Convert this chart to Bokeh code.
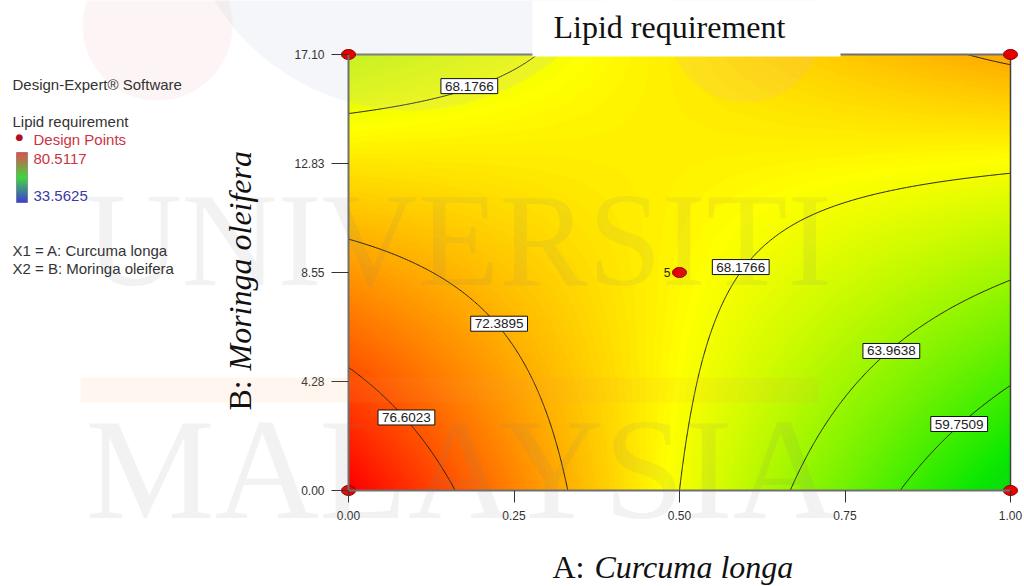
import numpy as np
from bokeh.plotting import figure
from bokeh.models import (Range1d, Label, BoxAnnotation, FixedTicker,
                          PrintfTickFormatter, LinearColorMapper)
from bokeh.embed import file_html
from bokeh.resources import INLINE

# ---------------- data ----------------
a_ticks = [0.00, 0.25, 0.50, 0.75, 1.00]
b_ticks = [0.00, 4.28, 8.55, 12.83, 17.10]
a_min, a_max = 0.0, 1.0
b_min, b_max = 0.0, 17.10
# coded quadratic model: intercept, A, B, AB, A^2, B^2
model_coefs = [69.03, -4.615, 0.725, 7.925, -0.15, -0.13]
contour_levels = [59.7509, 63.9638, 68.1766, 72.3895, 76.6023]
resp_low, resp_high = 33.5625, 80.5117
design_a = [0.0, 1.0, 0.0, 1.0, 0.5]
design_b = [0.0, 0.0, 17.10, 17.10, 8.55]
center_reps = 5
label_levels = [68.1766, 68.1766, 72.3895, 76.6023, 63.9638, 59.7509]
label_near_a = [0.183, 0.557, 0.233, 0.094, 0.826, 0.914]
label_near_b = [15.92, 9.45, 6.59, 3.14, 5.29, 2.75]

# ---------------- surface ----------------
A = np.linspace(a_min, a_max, 401)
B = np.linspace(b_min, b_max, 401)
AA, BB = np.meshgrid(A, B)
ca = 2 * (AA - a_min) / (a_max - a_min) - 1
cb = 2 * (BB - b_min) / (b_max - b_min) - 1
c = model_coefs
Z = c[0] + c[1] * ca + c[2] * cb + c[3] * ca * cb + c[4] * ca ** 2 + c[5] * cb ** 2

def make_cmap(stops):
    def f(t):
        for (t0, c0), (t1, c1) in zip(stops[:-1], stops[1:]):
            if t <= t1:
                g = (t - t0) / (t1 - t0)
                return "#%02x%02x%02x" % tuple(int(round(c0[i] + g * (c1[i] - c0[i]))) for i in range(3))
        return "#%02x%02x%02x" % stops[-1][1]
    return f
cmap = make_cmap([(0.0, (0, 0, 255)), (0.5, (10, 232, 0)), (0.75, (255, 255, 0)), (1.0, (255, 0, 0))])
legend_cmap = make_cmap([(0.0, (0, 0, 200)), (0.5, (0, 200, 0)), (1.0, (215, 20, 20))])
palette = [cmap(t) for t in np.linspace(0, 1, 256)]

# ---------------- figure (frame = whole canvas) ----------------
W, H = 1024, 586
left_px, right_px, top_px, bottom_px = 348, 1010, 54, 490
plot_w, plot_h = right_px - left_px, bottom_px - top_px
ua = (a_max - a_min) / plot_w
ub = (b_max - b_min) / plot_h

p = figure(frame_width=W, frame_height=H,
           x_range=Range1d(a_min - left_px * ua, a_max + (W - right_px) * ua),
           y_range=Range1d(b_min - (H - bottom_px) * ub, b_max + top_px * ub),
           output_backend="svg", toolbar_location=None,
           min_border_left=0, min_border_right=0, min_border_top=0, min_border_bottom=0)
p.outline_line_color = None
p.grid.visible = False
p.background_fill_color = "white"
p.border_fill_color = "white"
# page-pixel helper ranges (origin top-left)
p.extra_x_ranges = {"px": Range1d(0, W)}
p.extra_y_ranges = {"py": Range1d(H, 0)}

def page_label(x, y, text, **kw):
    lab = Label(x=x, y=y, text=text, x_range_name="px", y_range_name="py", **kw)
    p.add_layout(lab)
    return lab

mapper = LinearColorMapper(palette=palette, low=resp_low, high=resp_high)
p.image(image=[Z], x=a_min, y=b_min, dw=a_max - a_min, dh=b_max - b_min, color_mapper=mapper)
p.contour(A, B, Z, levels=contour_levels, line_color="#1e1e1e", line_width=1)

# frame lines top / right
p.segment(x0=[a_min, a_max], y0=[b_max, b_min], x1=[a_max, a_max], y1=[b_max, b_max],
          line_color=["#707070", "#404040"], line_width=[2, 1.5])

# faint logo circles of the page watermark
th = np.linspace(0, 2 * np.pi, 120)
circ = ((410, -120, 230, "#b8cadb", 0.16), (745, 25, 77, "#f2b0b0", 0.15), (157, 25, 75, "#f2b0b0", 0.13))
p.patches(xs=[list(cx + r * np.cos(th)) for cx, cy, r, _, _ in circ],
          ys=[list(cy + r * np.sin(th)) for cx, cy, r, _, _ in circ],
          fill_color=[k[3] for k in circ], fill_alpha=[k[4] for k in circ], line_color=None,
          x_range_name="px", y_range_name="py")

for ax, ticks, loc, bnds in ((p.xaxis, a_ticks, b_min, (a_min, a_max)),
                             (p.yaxis, b_ticks, a_min, (b_min, b_max))):
    ax.ticker = FixedTicker(ticks=ticks)
    ax.formatter = PrintfTickFormatter(format="%.2f")
    ax.fixed_location = loc
    ax.bounds = bnds
    ax.major_tick_in = 0
    ax.minor_tick_line_color = None
    ax.axis_line_color = "#707070"
    ax.axis_line_width = 2
    ax.major_tick_line_color = "#333333"
    ax.major_label_text_font = "Liberation Sans"
    ax.major_label_text_font_size = "12px"
    ax.major_label_text_color = "#333333"
p.xaxis.major_tick_out = 12
p.xaxis.major_label_standoff = 8
p.yaxis.major_tick_out = 17
p.yaxis.major_label_standoff = 7

# watermark text and band
page_label(85, 313, "UNIVERSITI", text_font="Liberation Serif", text_font_size="133px",
           text_color="#808080", text_alpha=0.10)
page_label(85, 548, "MALAYSIA", text_font="Liberation Serif", text_font_size="145px",
           text_color="#808080", text_alpha=0.10)
p.add_layout(BoxAnnotation(left=80, right=818, top=377, bottom=402, x_range_name="px", y_range_name="py",
                           fill_color="#f4a050", fill_alpha=0.09, line_alpha=0))

# design points
p.ellipse(x=design_a, y=design_b, width=14, height=10, width_units="screen", height_units="screen",
          fill_color="#e60000", line_color="#8a0000", line_width=1)
p.add_layout(Label(x=design_a[4], y=design_b[4], text=str(center_reps), x_offset=-9,
                   text_align="right", text_baseline="middle", text_font="Liberation Sans",
                   text_font_size="12px", text_color="#222222"))

# contour labels placed on the contour nearest to the chosen spot
for lev, ta, tb in zip(label_levels, label_near_a, label_near_b):
    mask = np.abs(Z - lev) < 0.06
    d = ((AA - ta) / ua) ** 2 + ((BB - tb) / ub) ** 2
    d = np.where(mask, d, np.inf)
    k = np.unravel_index(np.argmin(d), d.shape)
    p.add_layout(Label(x=AA[k], y=BB[k], text="%.4f" % lev, text_align="center", text_baseline="middle",
                       text_font="Liberation Sans", text_font_size="13.5px", text_color="#222222",
                       background_fill_color="white", border_line_color="#111111", border_line_width=1,
                       padding=dict(left=4, right=4, top=3, bottom=3)))

# title with white box
p.add_layout(BoxAnnotation(left=532, right=840, top=0, bottom=56, x_range_name="px", y_range_name="py",
                           fill_color="white", fill_alpha=1, line_alpha=0))
serif = dict(text_font="Liberation Serif", text_font_size="32px", text_color="#111111",
             text_baseline="alphabetic")
page_label(553, 26, "Lipid requirement", **serif)

# axis titles
page_label(552, 566, "A:", **serif)
page_label(594, 566, "Curcuma longa", text_font_style="italic", **serif)
page_label(239, 410, "B:", angle=np.pi / 2, **serif)
page_label(239, 370, "Moringa oleifera", angle=np.pi / 2, text_font_style="italic", **serif)

# left info panel
sans = dict(text_font="Liberation Sans", text_font_size="15px", text_baseline="alphabetic")
page_label(12, 84, "Design-Expert® Software", text_color="#333333", **sans)
page_label(12, 121, "Lipid requirement", text_color="#333333", **sans)
page_label(33, 139, "Design Points", text_color="#cc3344", **sans)
page_label(33, 158, "%.4f" % resp_high, text_color="#cc3344", **sans)
page_label(33, 195, "%.4f" % resp_low, text_color="#3a3aa8", **sans)
page_label(12, 250, "X1 = A: Curcuma longa", text_color="#333333", **sans)
page_label(12, 268, "X2 = B: Moringa oleifera", text_color="#333333", **sans)
page_label(19, 136, "\u25CF", text_color="#b01020", text_font="DejaVu Sans", text_font_size="9px",
           text_align="center", text_baseline="middle")
bar_top, bar_bot = 152, 202
n = bar_bot - bar_top
for i in range(n):
    col = legend_cmap(1 - i / (n - 1))
    p.add_layout(BoxAnnotation(left=16, right=27, top=bar_top + i, bottom=bar_top + i + 1,
                               x_range_name="px", y_range_name="py",
                               fill_color=col, fill_alpha=1, line_alpha=0))
p.add_layout(BoxAnnotation(left=16, right=27, top=bar_top, bottom=bar_bot, x_range_name="px",
                           y_range_name="py", fill_alpha=0, line_color="#333333", line_width=1))

open("out.html", "w").write(file_html(p, INLINE))
